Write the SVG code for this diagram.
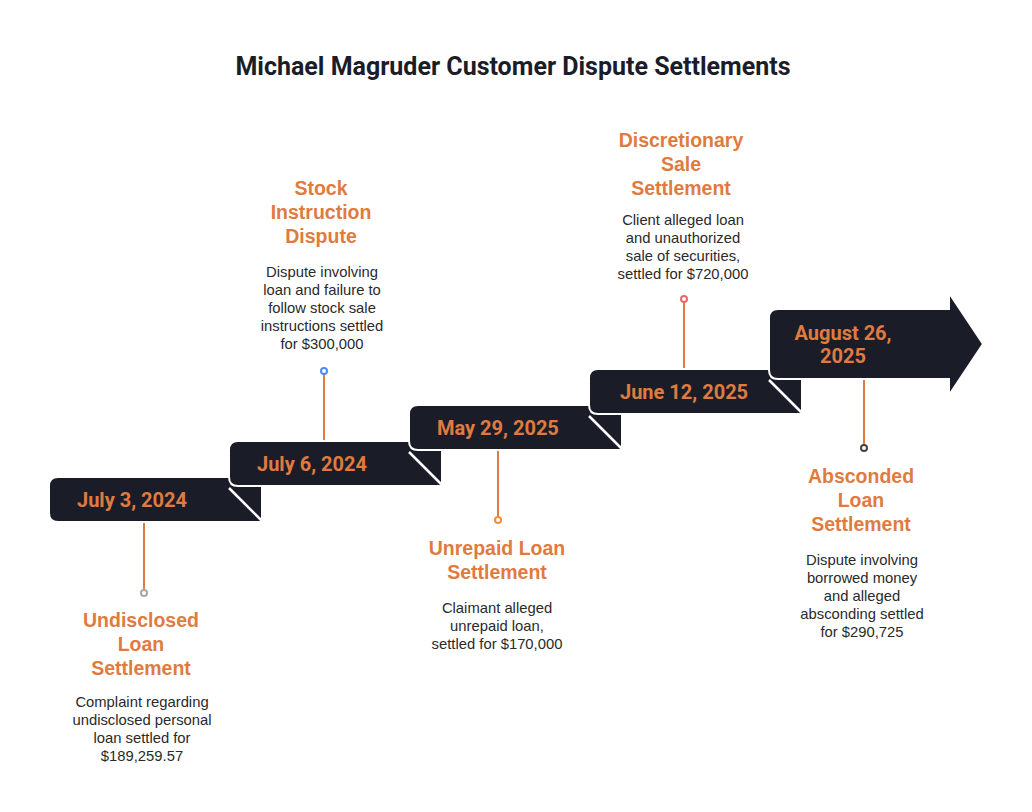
<svg xmlns="http://www.w3.org/2000/svg" width="1032" height="812" viewBox="0 0 1032 812">
<style>
.blk{fill:#1a1d28;stroke:#fff;stroke-width:2}
.fold{stroke:#fff;stroke-width:2.5;fill:none}
.date{font-family:Roboto,"Liberation Sans",sans-serif;font-weight:700;font-size:20px;fill:#e07b3f}
.ttl{font-family:"Liberation Sans",Arial,sans-serif;font-weight:700;font-size:19.5px;fill:#e07b3f;text-anchor:middle}
.desc{font-family:"Liberation Sans",Arial,sans-serif;font-size:14.8px;fill:#2a2a2a;text-anchor:middle}
.conn{stroke:#e07b3f;stroke-width:2;fill:none}
.dot{fill:#fff;stroke-width:2}
</style>
<rect width="1032" height="812" fill="#fff"/>
<text x="513" y="75" text-anchor="middle" font-family="Roboto,'Liberation Sans',sans-serif" font-weight="700" font-size="25" fill="#1a1d28">Michael Magruder Customer Dispute Settlements</text>

<g id="connectors">
<line class="conn" x1="144" y1="522" x2="144" y2="590"/>
<circle class="dot" cx="144" cy="593" r="3" stroke="#a8a8a8"/>
<line class="conn" x1="324" y1="441" x2="324" y2="374"/>
<circle class="dot" cx="324" cy="371" r="3" stroke="#4a8cf0"/>
<line class="conn" x1="498" y1="451" x2="498" y2="517"/>
<circle class="dot" cx="498" cy="520" r="3" stroke="#f0903a"/>
<line class="conn" x1="684" y1="369" x2="684" y2="302"/>
<circle class="dot" cx="684" cy="299" r="3" stroke="#e86868"/>
<line class="conn" x1="864" y1="379" x2="864" y2="445"/>
<circle class="dot" cx="864" cy="448" r="3" stroke="#444"/>
</g>

<g id="node1">
<path class="blk" d="M58,477 H262 V522 H58 Q49,522 49,513 V486 Q49,477 58,477 Z"/>
<line class="fold" x1="229" y1="488" x2="262" y2="521"/>
</g>
<g id="node2">
<path class="blk" d="M238,441 H442 V486 H238 Q229,486 229,477 V450 Q229,441 238,441 Z"/>
<line class="fold" x1="409" y1="452" x2="442" y2="485"/>
<text class="date" x="257" y="471">July 6, 2024</text>
</g>
<g id="node3">
<path class="blk" d="M418,405 H622 V450 H418 Q409,450 409,441 V414 Q409,405 418,405 Z"/>
<line class="fold" x1="589" y1="416" x2="622" y2="449"/>
<text class="date" x="437" y="435">May 29, 2025</text>
</g>
<g id="node4">
<path class="blk" d="M598,369 H802 V414 H598 Q589,414 589,405 V378 Q589,369 598,369 Z"/>
<line class="fold" x1="769" y1="380" x2="802" y2="413"/>
<text class="date" x="620" y="399">June 12, 2025</text>
</g>
<g id="node5">
<path class="blk" d="M778,309 H949 V293 L983,344 L949,395 V379 H778 Q769,379 769,370 V318 Q769,309 778,309 Z"/>
<text class="date" x="843" y="340" text-anchor="middle">August 26,</text>
<text class="date" x="843" y="363" text-anchor="middle">2025</text>
</g>
<text class="date" x="77" y="507">July 3, 2024</text>

<g id="label1">
<text class="ttl" x="141" y="627">Undisclosed</text>
<text class="ttl" x="141" y="651">Loan</text>
<text class="ttl" x="141" y="675">Settlement</text>
<text class="desc" x="142" y="707">Complaint regarding</text>
<text class="desc" x="142" y="725">undisclosed personal</text>
<text class="desc" x="142" y="743">loan settled for</text>
<text class="desc" x="142" y="761">$189,259.57</text>
</g>
<g id="label2">
<text class="ttl" x="321" y="195">Stock</text>
<text class="ttl" x="321" y="219">Instruction</text>
<text class="ttl" x="321" y="243">Dispute</text>
<text class="desc" x="322" y="277">Dispute involving</text>
<text class="desc" x="322" y="295">loan and failure to</text>
<text class="desc" x="322" y="313">follow stock sale</text>
<text class="desc" x="322" y="331">instructions settled</text>
<text class="desc" x="322" y="349">for $300,000</text>
</g>
<g id="label3">
<text class="ttl" x="497" y="555">Unrepaid Loan</text>
<text class="ttl" x="497" y="579">Settlement</text>
<text class="desc" x="497" y="613">Claimant alleged</text>
<text class="desc" x="497" y="631">unrepaid loan,</text>
<text class="desc" x="497" y="649">settled for $170,000</text>
</g>
<g id="label4">
<text class="ttl" x="681" y="147">Discretionary</text>
<text class="ttl" x="681" y="171">Sale</text>
<text class="ttl" x="681" y="195">Settlement</text>
<text class="desc" x="683" y="225">Client alleged loan</text>
<text class="desc" x="683" y="243">and unauthorized</text>
<text class="desc" x="683" y="261">sale of securities,</text>
<text class="desc" x="683" y="279">settled for $720,000</text>
</g>
<g id="label5">
<text class="ttl" x="861" y="483">Absconded</text>
<text class="ttl" x="861" y="507">Loan</text>
<text class="ttl" x="861" y="531">Settlement</text>
<text class="desc" x="862" y="565">Dispute involving</text>
<text class="desc" x="862" y="583">borrowed money</text>
<text class="desc" x="862" y="601">and alleged</text>
<text class="desc" x="862" y="619">absconding settled</text>
<text class="desc" x="862" y="637">for $290,725</text>
</g>
</svg>
